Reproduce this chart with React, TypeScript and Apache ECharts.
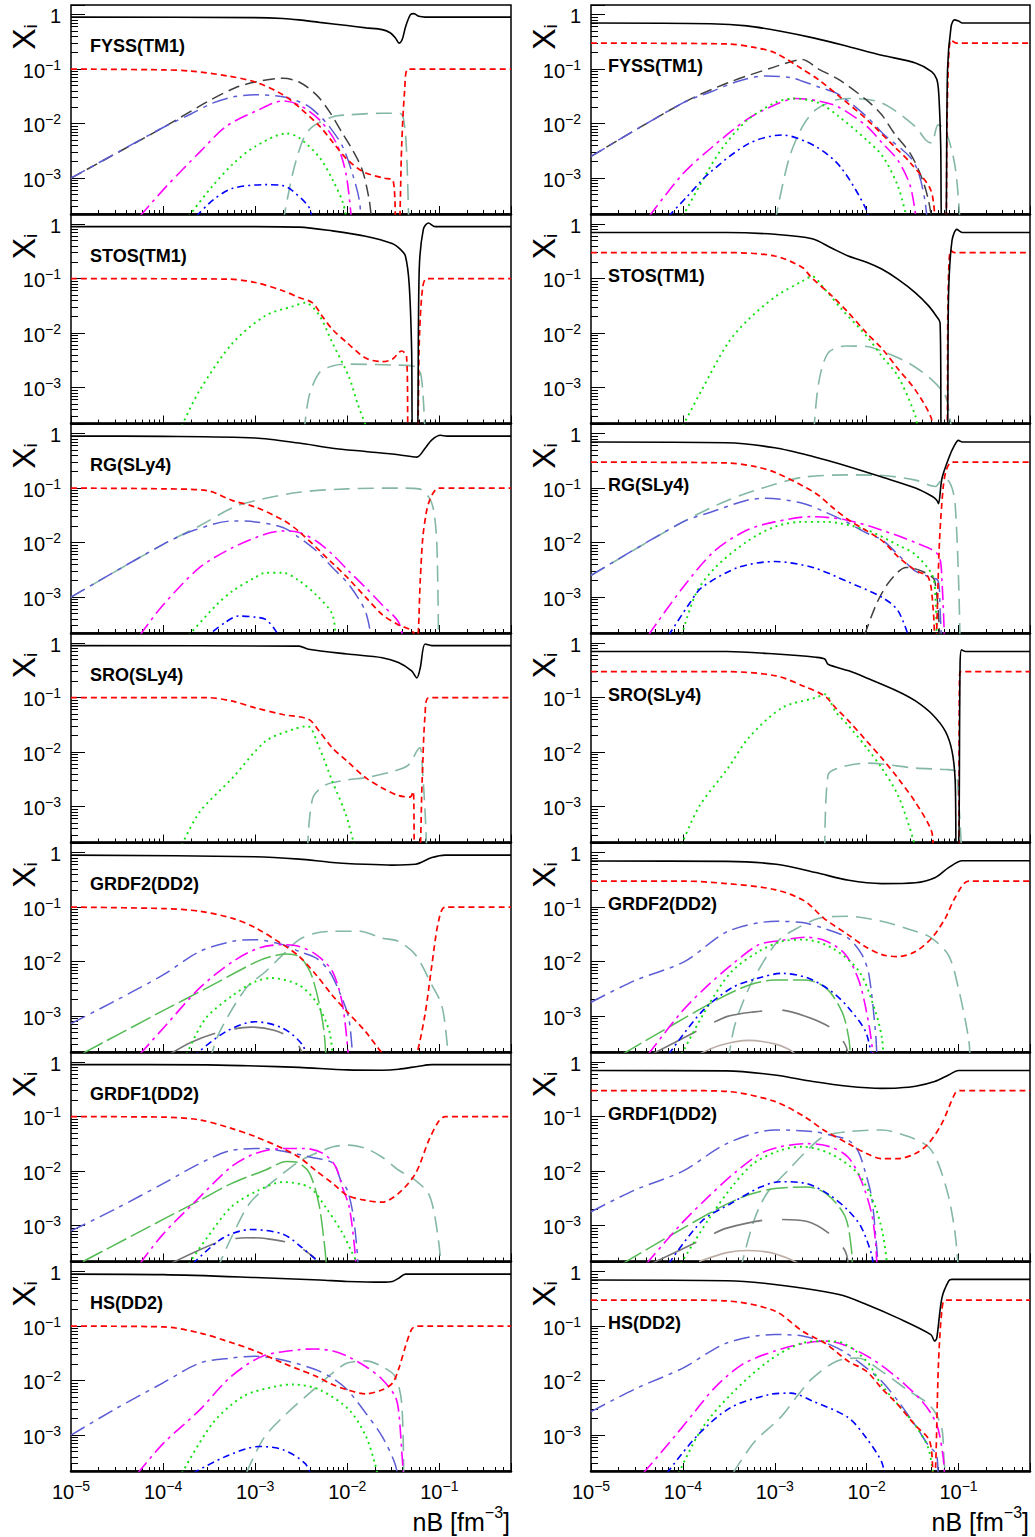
import React, { useEffect, useRef } from "react";
import * as echarts from "echarts";

type Pt = [number, number];

// Log-scale axis ranges shared by every panel
const X_RANGE: [number, number] = [1e-5, 0.6];
const Y_RANGE: [number, number] = [2.2e-4, 1.5];
// Decades that carry a tick label
const X_TICK_EXPONENTS = [-5, -4, -3, -2, -1];
const Y_TICK_EXPONENTS = [-3, -2, -1, 0];

const PANEL_NAMES = ["FYSS(TM1)", "STOS(TM1)", "RG(SLy4)", "SRO(SLy4)", "GRDF2(DD2)", "GRDF1(DD2)", "HS(DD2)"];

// ---------------- FYSS(TM1) ----------------
const fy1_n: Pt[] = [[1e-5,0.9],[1e-3,0.88],[2e-3,0.85],[3e-3,0.8],[5e-3,0.72],[1e-2,0.63],[1.6e-2,0.57],[2.4e-2,0.53],[2.95e-2,0.46],[3.35e-2,0.37],[3.65e-2,0.3],[3.95e-2,0.35],[4.3e-2,0.6],[4.85e-2,1.0],[5.3e-2,1.04],[6e-2,0.93],[7e-2,0.9],[0.6,0.9]];
const fy1_p: Pt[] = [[1e-5,0.1],[1e-4,0.097],[2e-4,0.092],[5e-4,0.075],[1e-3,0.058],[2e-3,0.034],[3e-3,0.02],[5e-3,0.009],[7e-3,0.0045],[1e-2,0.0022],[1.5e-2,0.0013],[2.5e-2,0.001],[3.15e-2,0.0009],[3.4e-2,1e-4],[3.62e-2,1e-4],[3.9e-2,0.004],[4.2e-2,0.04],[4.6e-2,0.1],[0.6,0.1]];
const fy1_d: Pt[] = [[1e-5,0.001],[1e-4,0.0085],[3e-4,0.025],[6e-4,0.045],[1e-3,0.058],[2e-3,0.068],[3e-3,0.058],[4.6e-3,0.034],[6.4e-3,0.0166],[8.9e-3,0.0066],[1.14e-2,0.0033],[1.46e-2,0.0014],[1.73e-2,4e-4],[1.85e-2,1.5e-4]];
const fy1_t: Pt[] = [[1e-5,0.001],[1e-4,0.0085],[2e-4,0.015],[3.5e-4,0.024],[5.8e-4,0.031],[1e-3,0.034],[2e-3,0.031],[3.6e-3,0.022],[5e-3,0.014],[6.4e-3,0.0088],[8.9e-3,0.0038],[1.14e-2,0.0012],[1.35e-2,4e-4],[1.42e-2,1.5e-4]];
const fy1_a: Pt[] = [[5.6e-5,2e-4],[1.08e-4,7e-4],[2.5e-4,0.003],[4.8e-4,0.0088],[1.02e-3,0.017],[2e-3,0.026],[3e-3,0.022],[5e-3,0.0117],[7.6e-3,0.0044],[9.7e-3,0.0012],[1.12e-2,1.5e-4]];
const fy1_h: Pt[] = [[1.9e-4,2e-4],[3.4e-4,7e-4],[5.7e-4,0.0018],[1e-3,0.0038],[2.2e-3,0.0066],[3e-3,0.0055],[5e-3,0.0024],[7e-3,0.0009],[9e-3,3.5e-4],[1e-2,1.5e-4]];
const fy1_b: Pt[] = [[2.3e-4,2e-4],[3.5e-4,4e-4],[5.7e-4,6.5e-4],[1.3e-3,7.6e-4],[2e-3,7.3e-4],[2.5e-3,6e-4],[3.9e-3,2.8e-4],[4.1e-3,1.5e-4]];
const fy1_A: Pt[] = [[2e-3,1.5e-4],[2.55e-3,0.0012],[3.3e-3,0.005],[4.2e-3,0.0088],[7e-3,0.0134],[1.04e-2,0.0145],[2.4e-2,0.0155],[3.7e-2,0.0155],[4.1e-2,0.0117],[4.4e-2,0.0033],[4.65e-2,1.5e-4]];

const fy3_n: Pt[] = [[1e-5,0.7],[2e-4,0.68],[5e-4,0.62],[1.2e-3,0.49],[2.7e-3,0.37],[6.3e-3,0.26],[1.46e-2,0.18],[3.4e-2,0.13],[5.1e-2,0.09],[5.8e-2,0.065],[6.1e-2,0.035],[6.4e-2,0.004],[6.6e-2,1e-4],[7.2e-2,1e-4],[7.6e-2,0.1],[8.3e-2,0.6],[9e-2,0.8],[0.1,0.76],[0.11,0.7],[0.6,0.7]];
const fy3_p: Pt[] = [[1e-5,0.3],[3e-4,0.29],[6e-4,0.25],[1e-3,0.2],[2e-3,0.1],[3e-3,0.064],[5e-3,0.032],[1e-2,0.012],[2e-2,0.0038],[3e-2,0.0019],[5e-2,6e-4],[6e-2,1e-4],[7.2e-2,1e-4],[7.5e-2,0.01],[7.8e-2,0.15],[8.3e-2,0.34],[9.5e-2,0.3],[0.6,0.3]];
const fy3_d: Pt[] = [[1e-5,0.0025],[1e-4,0.024],[3e-4,0.055],[1e-3,0.11],[2e-3,0.15],[3e-3,0.1],[5e-3,0.064],[1e-2,0.027],[1.46e-2,0.0145],[2e-2,0.0066],[3e-2,0.0028],[4e-2,0.001],[4.7e-2,4e-4],[5.2e-2,1.5e-4]];
const fy3_t: Pt[] = [[1e-5,0.0025],[1e-4,0.024],[2e-4,0.038],[4e-4,0.06],[8e-4,0.075],[1.5e-3,0.07],[2e-3,0.06],[3e-3,0.047],[5e-3,0.034],[1e-2,0.0135],[1.5e-2,0.0066],[3e-2,0.0024],[3.7e-2,0.0012],[4.3e-2,4e-4],[4.6e-2,1.5e-4]];
const fy3_a: Pt[] = [[4.3e-5,2e-4],[1e-4,0.0012],[2e-4,0.0035],[5e-4,0.012],[1e-3,0.022],[1.7e-3,0.029],[3e-3,0.026],[5e-3,0.02],[1e-2,0.009],[1.5e-2,0.0043],[2.2e-2,0.0021],[3e-2,0.0007],[3.5e-2,1.5e-4]];
const fy3_h: Pt[] = [[1e-4,2e-4],[1.5e-4,7e-4],[2.6e-4,0.0033],[5e-4,0.0115],[1e-3,0.024],[1.6e-3,0.029],[3e-3,0.024],[5e-3,0.0135],[1e-2,0.005],[1.5e-2,0.0025],[2.2e-2,7e-4],[2.7e-2,2e-4]];
const fy3_b: Pt[] = [[7e-5,2e-4],[1.1e-4,4.5e-4],[1.9e-4,0.0012],[5.2e-4,0.0043],[1.2e-3,0.0062],[2.8e-3,0.0038],[5.2e-3,0.0016],[1e-2,2.6e-4],[1.05e-2,1.5e-4]];
const fy3_A: Pt[] = [[1e-3,1.5e-4],[1.42e-3,0.0022],[2e-3,0.0088],[2.8e-3,0.018],[4.6e-3,0.027],[6.3e-3,0.029],[1.46e-2,0.024],[3.4e-2,0.0088],[4.4e-2,0.005],[5.1e-2,0.0044],[6e-2,0.0095],[7.2e-2,0.0077],[9.2e-2,0.0016],[0.104,1.5e-4]];

// ---------------- STOS(TM1) ----------------
const st1_n: Pt[] = [[1e-5,0.9],[1e-3,0.9],[3e-3,0.88],[6.9e-3,0.75],[1.58e-2,0.6],[3.07e-2,0.44],[3.8e-2,0.34],[4.28e-2,0.26],[4.7e-2,0.08],[5e-2,0.005],[5.14e-2,1e-4],[5.7e-2,1e-4],[6.05e-2,0.15],[6.7e-2,0.8],[7.6e-2,1.05],[9e-2,0.9],[0.6,0.9]];
const st1_p: Pt[] = [[1e-5,0.1],[5e-4,0.098],[1e-3,0.085],[2e-3,0.06],[3e-3,0.045],[4.2e-3,0.036],[5.4e-3,0.02],[6.9e-3,0.0117],[1e-2,0.0066],[1.58e-2,0.0035],[2.4e-2,0.003],[3.07e-2,0.0033],[3.9e-2,0.0047],[4.4e-2,0.0038],[4.7e-2,1e-4],[5.6e-2,1e-4],[6.1e-2,0.01],[6.6e-2,0.07],[7.3e-2,0.1],[0.6,0.1]];
const st1_h: Pt[] = [[1.6e-4,2e-4],[2.5e-4,9e-4],[5.7e-4,0.0066],[1.3e-3,0.021],[2.55e-3,0.031],[3.5e-3,0.036],[4.98e-3,0.021],[6.9e-3,0.0066],[1.04e-2,0.0016],[1.3e-2,5e-4],[1.7e-2,1.5e-4]];
const st1_A: Pt[] = [[3.4e-3,1.5e-4],[3.85e-3,7e-4],[5e-3,0.0019],[6.9e-3,0.0025],[1e-2,0.0027],[3.07e-2,0.0026],[5.1e-2,0.0025],[6e-2,0.0022],[6.5e-2,0.0012],[7e-2,1.5e-4]];

const st3_n: Pt[] = [[1e-5,0.7],[3e-4,0.7],[1e-3,0.65],[2.55e-3,0.54],[4.2e-3,0.36],[6.3e-3,0.26],[1e-2,0.2],[1.46e-2,0.15],[2.2e-2,0.097],[3.4e-2,0.055],[4.7e-2,0.032],[5.8e-2,0.02],[6.3e-2,0.0155],[6.6e-2,1e-4],[7.45e-2,1e-4],[7.8e-2,0.055],[8.5e-2,0.5],[9.6e-2,0.8],[0.11,0.7],[0.6,0.7]];
const st3_p: Pt[] = [[1e-5,0.3],[3e-4,0.3],[1e-3,0.26],[2e-3,0.16],[2.5e-3,0.105],[4.2e-3,0.048],[6.3e-3,0.024],[1e-2,0.01],[1.5e-2,0.005],[2.2e-2,0.0022],[3.4e-2,0.0009],[5e-2,2.9e-4],[5.8e-2,1e-4],[7.4e-2,1e-4],[7.7e-2,0.05],[8.2e-2,0.33],[9e-2,0.3],[0.6,0.3]];
const st3_h: Pt[] = [[1e-4,2e-4],[1.6e-4,9e-4],[3.1e-4,0.0066],[5.2e-4,0.018],[1.04e-3,0.048],[2e-3,0.09],[2.55e-3,0.11],[3.5e-3,0.064],[5.4e-3,0.027],[1e-2,0.0088],[1.46e-2,0.0038],[2.2e-2,0.0016],[3.4e-2,3e-4],[3.6e-2,1.5e-4]];
const st3_A: Pt[] = [[2.66e-3,1.5e-4],[3e-3,0.0012],[3.8e-3,0.0043],[5.9e-3,0.0058],[1e-2,0.0057],[1.46e-2,0.0047],[2.9e-2,0.0028],[5.1e-2,0.0014],[7.2e-2,7e-4],[8e-2,3e-4],[8.5e-2,1.5e-4]];

// ---------------- RG(SLy4) ----------------
const rg1_n: Pt[] = [[1e-5,0.9],[1e-4,0.89],[1e-3,0.83],[3e-3,0.67],[6.9e-3,0.54],[1.58e-2,0.47],[3.6e-2,0.41],[5.7e-2,0.37],[7e-2,0.54],[8.3e-2,0.77],[0.103,0.93],[0.12,0.9],[0.6,0.9]];
const rg1_p: Pt[] = [[1e-5,0.1],[1e-4,0.097],[3e-4,0.09],[5.7e-4,0.059],[1e-3,0.045],[2e-3,0.026],[3e-3,0.016],[6.9e-3,0.0042],[1e-2,0.0023],[1.58e-2,0.001],[2.4e-2,0.00048],[3.6e-2,0.00031],[5.06e-2,0.00024],[5.7e-2,1.5e-4],[6.2e-2,0.002],[6.6e-2,0.012],[7.2e-2,0.035],[7.7e-2,0.055],[8.5e-2,0.08],[0.098,0.1],[0.6,0.1]];
const rg1_A: Pt[] = [[1e-5,0.001],[1e-4,0.0093],[2.5e-4,0.0204],[5.7e-4,0.044],[1e-3,0.059],[3e-3,0.084],[1e-2,0.097],[3.6e-2,0.1],[6e-2,0.097],[7.7e-2,0.068],[8.7e-2,0.038],[9.4e-2,0.0093],[9.8e-2,1.5e-4]];
const rg1_t: Pt[] = [[1e-5,0.001],[1e-4,0.0093],[2.2e-4,0.017],[5.7e-4,0.025],[1e-3,0.024],[2e-3,0.019],[3e-3,0.0124],[4.6e-3,0.0071],[6.9e-3,0.0035],[1.04e-2,0.0017],[1.58e-2,5.4e-4],[1.85e-2,1.5e-4]];
const rg1_a: Pt[] = [[5.6e-5,2e-4],[1e-4,7.2e-4],[2.5e-4,0.0035],[5.7e-4,0.0081],[1.3e-3,0.0144],[2e-3,0.0164],[3e-3,0.0154],[4.6e-3,0.0107],[6.9e-3,0.0061],[1.04e-2,0.003],[1.58e-2,0.0015],[2.4e-2,7.2e-4],[3.6e-2,3.5e-4],[4.1e-2,1.5e-4]];
const rg1_h: Pt[] = [[1.9e-4,2e-4],[3.8e-4,7.2e-4],[5.7e-4,0.0013],[1e-3,0.0023],[1.3e-3,0.0028],[2e-3,0.0028],[3e-3,0.002],[4.6e-3,0.0011],[6.9e-3,4.8e-4],[7.5e-3,1.5e-4]];
const rg1_b: Pt[] = [[2.5e-4,1.5e-4],[4.8e-4,3.5e-4],[6.6e-4,4.5e-4],[1e-3,4.3e-4],[1.3e-3,3.9e-4],[1.7e-3,2.3e-4],[1.8e-3,1.5e-4]];

const rg3_n: Pt[] = [[1e-5,0.7],[3e-4,0.68],[1e-3,0.55],[2.6e-3,0.38],[6.3e-3,0.25],[1.46e-2,0.16],[3.4e-2,0.1],[5.2e-2,0.07],[5.8e-2,0.06],[6.05e-2,0.052],[6.6e-2,0.15],[7.8e-2,0.35],[9e-2,0.6],[0.1,0.75],[0.11,0.7],[0.6,0.7]];
const rg3_p: Pt[] = [[1e-5,0.3],[3e-4,0.29],[6e-4,0.25],[1.04e-3,0.19],[2.8e-3,0.08],[4.2e-3,0.045],[6.4e-3,0.026],[1.46e-2,0.011],[2.2e-2,0.0055],[3.4e-2,0.0031],[4.7e-2,0.0023],[5.3e-2,0.0006],[5.6e-2,1e-4],[6.2e-2,0.01],[6.8e-2,0.1],[7.4e-2,0.22],[8.5e-2,0.3],[0.6,0.3]];
const rg3_A: Pt[] = [[1e-5,0.0025],[1e-4,0.024],[3.1e-4,0.06],[1.04e-3,0.12],[2.1e-3,0.16],[6.4e-3,0.175],[1.5e-2,0.17],[3.4e-2,0.14],[5.6e-2,0.107],[6.6e-2,0.14],[7.5e-2,0.14],[8.5e-2,0.1],[9.2e-2,0.05],[0.1,0.0023],[0.104,1.5e-4]];
const rg3_t: Pt[] = [[1e-5,0.0025],[1e-4,0.024],[2e-4,0.036],[5e-4,0.06],[8e-4,0.065],[2e-3,0.053],[3.6e-3,0.036],[6e-3,0.024],[1e-2,0.015],[1.5e-2,0.011],[2.2e-2,0.006],[3.4e-2,0.003],[4.7e-2,0.0024],[6e-2,0.002],[6.3e-2,0.0006],[6.6e-2,1e-4]];
const rg3_a: Pt[] = [[4.2e-5,2e-4],[1e-4,0.0015],[2.2e-4,0.007],[5e-4,0.017],[1e-3,0.024],[2.5e-3,0.03],[6e-3,0.026],[1.45e-2,0.017],[3.4e-2,0.01],[6e-2,0.006],[6.6e-2,0.002],[7.1e-2,1e-4]];
const rg3_h: Pt[] = [[9.7e-5,2e-4],[1.4e-4,0.0012],[2.25e-4,0.0035],[5.2e-4,0.011],[1.04e-3,0.02],[2e-3,0.024],[3.6e-3,0.024],[1e-2,0.017],[2.2e-2,0.009],[3.4e-2,0.006],[5.2e-2,0.0025],[5.6e-2,0.001],[5.8e-2,1.5e-4]];
const rg3_b: Pt[] = [[7e-5,2e-4],[1.2e-4,0.0008],[1.6e-4,0.0015],[4e-4,0.0035],[1e-3,0.0045],[2.6e-3,0.0035],[6.3e-3,0.0019],[1.46e-2,0.001],[2.2e-2,5.6e-4],[3e-2,1.5e-4]];
const rg3_d: Pt[] = [[9.5e-3,2e-4],[1.3e-2,8e-4],[1.8e-2,0.002],[2.7e-2,0.0035],[4e-2,0.003],[5.5e-2,0.002],[6.3e-2,1e-4]];

// ---------------- SRO(SLy4) ----------------
const sr1_n: Pt[] = [[1e-5,0.9],[3e-3,0.88],[3.8e-3,0.77],[1e-2,0.63],[2.4e-2,0.54],[3.6e-2,0.44],[5e-2,0.31],[5.7e-2,0.23],[6.2e-2,0.35],[7e-2,0.96],[8.3e-2,0.9],[0.6,0.9]];
const sr1_p: Pt[] = [[1e-5,0.1],[3e-4,0.1],[5.7e-4,0.086],[1e-3,0.065],[2e-3,0.049],[3.8e-3,0.04],[4.98e-3,0.024],[6.9e-3,0.0119],[1e-2,0.0068],[1.58e-2,0.0034],[2.4e-2,0.0022],[3.6e-2,0.0016],[4.8e-2,0.0015],[5.2e-2,0.0019],[5.45e-2,1e-4],[6e-2,1e-4],[6.5e-2,0.0029],[7e-2,0.049],[7.7e-2,0.1],[0.6,0.1]];
const sr1_h: Pt[] = [[1.6e-4,2e-4],[2.5e-4,8e-4],[5.7e-4,0.0034],[1.3e-3,0.0159],[2.55e-3,0.026],[3.7e-3,0.03],[4.98e-3,0.0119],[6.9e-3,0.0029],[9.7e-3,7e-4],[1.24e-2,1.5e-4]];
const sr1_A: Pt[] = [[3.7e-3,1.5e-4],[4.2e-3,0.0014],[5.8e-3,0.0025],[1e-2,0.0031],[1.58e-2,0.0034],[3.07e-2,0.0044],[4.6e-2,0.0058],[5.8e-2,0.011],[6.2e-2,0.012],[6.6e-2,0.004],[7e-2,0.0008],[7.3e-2,1.5e-4]];

const sr3_n: Pt[] = [[1e-5,0.7],[3e-4,0.7],[1.04e-3,0.63],[2.8e-3,0.55],[3.5e-3,0.51],[3.8e-3,0.41],[6.4e-3,0.31],[1e-2,0.23],[2.2e-2,0.13],[3.4e-2,0.087],[5.2e-2,0.049],[7.2e-2,0.024],[8.5e-2,0.0104],[9.2e-2,0.003],[9.5e-2,1e-4],[0.1,1e-4],[0.104,0.4],[0.108,0.75],[0.12,0.7],[0.6,0.7]];
const sr3_p: Pt[] = [[1e-5,0.3],[3e-4,0.3],[1.04e-3,0.25],[2.1e-3,0.16],[3.5e-3,0.107],[4.6e-3,0.065],[6.4e-3,0.037],[1e-2,0.016],[1.46e-2,0.0078],[2.2e-2,0.0033],[3.4e-2,0.0012],[5.1e-2,3.5e-4],[5.6e-2,1e-4],[0.1,1e-4],[0.102,0.1],[0.104,0.3],[0.6,0.3]];
const sr3_h: Pt[] = [[9.7e-5,2e-4],[1.5e-4,0.001],[3.1e-4,0.0051],[5.2e-4,0.0183],[1.2e-3,0.065],[2.8e-3,0.1],[3.5e-3,0.115],[4.6e-3,0.055],[6.4e-3,0.03],[1e-2,0.012],[1.46e-2,0.0051],[2.2e-2,0.0016],[3.2e-2,2.6e-4],[3.4e-2,1.5e-4]];
const sr3_A: Pt[] = [[3.5e-3,1.5e-4],[3.8e-3,0.0038],[4.9e-3,0.0051],[1e-2,0.0063],[3.4e-2,0.0051],[7.2e-2,0.0048],[9.2e-2,0.0045],[0.1,0.0014],[0.108,1.5e-4]];

// ---------------- GRDF2(DD2) ----------------
const g21_n: Pt[] = [[1e-5,0.9],[1e-3,0.84],[3e-3,0.76],[6.9e-3,0.66],[1.58e-2,0.61],[3.07e-2,0.59],[5.5e-2,0.61],[8.3e-2,0.81],[0.116,0.9],[0.6,0.9]];
const g21_p: Pt[] = [[1e-5,0.1],[1e-4,0.094],[2.5e-4,0.084],[5.7e-4,0.062],[1e-3,0.042],[2e-3,0.0205],[3e-3,0.0125],[4.6e-3,0.0057],[6.9e-3,0.0024],[1e-2,0.0012],[1.58e-2,5.2e-4],[2.4e-2,2.1e-4],[3.5e-2,1.2e-4],[5e-2,1.2e-4],[5.7e-2,2e-4],[7e-2,0.0011],[8.3e-2,0.0087],[9.8e-2,0.055],[0.116,0.1],[0.6,0.1]];
const g21_A: Pt[] = [[3.2e-4,1.5e-4],[4.1e-4,5.1e-4],[8e-4,0.0033],[1.3e-3,0.0066],[2e-3,0.0134],[3e-3,0.0253],[4.6e-3,0.0336],[6.9e-3,0.036],[1.35e-2,0.036],[2.4e-2,0.027],[3.6e-2,0.0236],[5.5e-2,0.0134],[8.3e-2,0.0037],[0.106,0.0016],[0.12,3.9e-4],[0.125,1.5e-4]];
const g21_t: Pt[] = [[1e-5,7.3e-4],[3e-5,0.0019],[1e-4,0.0057],[2.5e-4,0.0154],[5.7e-4,0.0236],[1e-3,0.0253],[2e-3,0.0205],[3e-3,0.0154],[4.6e-3,0.0116],[6.4e-3,0.0066],[8.2e-3,0.0028],[1.04e-2,9e-4],[1.15e-2,1.5e-4]];
const g21_a: Pt[] = [[5.6e-5,2e-4],[1.08e-4,6.9e-4],[2.5e-4,0.0033],[5.7e-4,0.01],[1.1e-3,0.0178],[2e-3,0.0205],[3e-3,0.019],[4.6e-3,0.0134],[6.9e-3,0.0066],[8.9e-3,0.0016],[1.04e-2,1.5e-4]];
const g21_g: Pt[] = [[1.36e-5,2.1e-4],[1e-4,0.00126],[3e-4,0.0033],[1e-3,0.0097],[1.5e-3,0.0125],[2.2e-3,0.0138],[3e-3,0.0125],[3.7e-3,0.008],[4.2e-3,0.005],[5e-3,0.0016],[5.6e-3,5.1e-4],[5.9e-3,1.5e-4]];
const g21_h: Pt[] = [[1.8e-4,2e-4],[2.9e-4,9.1e-4],[5.7e-4,0.0024],[1e-3,0.0043],[1.5e-3,0.005],[3e-3,0.0037],[4.6e-3,0.0018],[6.4e-3,5.2e-4],[7e-3,1.5e-4]];
const g21_b: Pt[] = [[2.1e-4,1.8e-4],[4.8e-4,5.2e-4],[1e-3,7.9e-4],[2e-3,6e-4],[3.3e-3,2.9e-4],[3.6e-3,1.5e-4]];
const g21_k: Pt[] = [[1.18e-4,2e-4],[2e-4,3.3e-4],[4.1e-4,5.1e-4],[9e-4,6.3e-4],[1.6e-3,5.5e-4],[2.7e-3,3.6e-4],[3.2e-3,2.2e-4]];

const g23_n: Pt[] = [[1e-5,0.7],[3e-4,0.69],[1.04e-3,0.61],[2.8e-3,0.43],[6.4e-3,0.31],[1.46e-2,0.27],[3.4e-2,0.28],[5.6e-2,0.35],[7.8e-2,0.53],[0.11,0.71],[0.6,0.71]];
const g23_p: Pt[] = [[1e-5,0.3],[1e-4,0.3],[3e-4,0.27],[1e-3,0.21],[2.1e-3,0.13],[3.4e-3,0.063],[6.3e-3,0.031],[9.6e-3,0.019],[1.5e-2,0.0133],[2.2e-2,0.0124],[3.4e-2,0.0153],[5.1e-2,0.027],[7.2e-2,0.063],[9.2e-2,0.15],[0.129,0.3],[0.6,0.3]];
const g23_A: Pt[] = [[3.1e-4,1.5e-4],[3.6e-4,6e-4],[4.5e-4,0.0018],[5.9e-4,0.0049],[1.06e-3,0.023],[1.75e-3,0.041],[3.1e-3,0.063],[6.3e-3,0.068],[1.46e-2,0.055],[3.4e-2,0.036],[5.1e-2,0.027],[7.8e-2,0.013],[0.1,0.0032],[0.129,3.8e-4],[0.134,1.5e-4]];
const g23_t: Pt[] = [[1e-5,0.0018],[3e-5,0.0045],[1.04e-4,0.01],[3.1e-4,0.036],[1.04e-3,0.055],[2e-3,0.052],[3.4e-3,0.041],[6.3e-3,0.027],[8.9e-3,0.0134],[1.06e-2,0.0057],[1.25e-2,5e-4],[1.3e-2,1.5e-4]];
const g23_a: Pt[] = [[4.2e-5,2e-4],[9.7e-5,0.0012],[1.75e-4,0.0033],[3.4e-4,0.0088],[6.7e-4,0.0205],[1.1e-3,0.024],[2.15e-3,0.028],[3.6e-3,0.024],[5.9e-3,0.0134],[8.3e-3,0.0043],[1.06e-2,6.9e-4],[1.2e-2,1.5e-4]];
const g23_h: Pt[] = [[9.7e-5,2e-4],[1.9e-4,0.0016],[3.4e-4,0.0066],[6.7e-4,0.0154],[1.2e-3,0.0236],[2.1e-3,0.0253],[4.2e-3,0.0178],[8.3e-3,0.0066],[1.25e-2,0.0012],[1.47e-2,3.9e-4],[1.53e-2,1.5e-4]];
const g23_b: Pt[] = [[7e-5,2e-4],[1.6e-4,0.0012],[3.4e-4,0.0033],[6.7e-4,0.005],[1.2e-3,0.0061],[2.3e-3,0.005],[4.2e-3,0.0028],[6.4e-3,0.0014],[9.8e-3,5.1e-4],[1.15e-2,1.5e-4]];
const g23_g: Pt[] = [[2.2e-5,2e-4],[2.1e-4,0.0018],[5.2e-4,0.0037],[1e-3,0.0046],[2.15e-3,0.0046],[3.6e-3,0.0033],[5.4e-3,0.0012],[6.4e-3,3.9e-4],[6.7e-3,1.5e-4]];
const g23_k: Pt[] = [[4.6e-5,2e-4],[1.6e-4,5.9e-4],[3e-4,9.8e-4],[6e-4,0.0012],[1.1e-3,0.0013],[2.15e-3,0.001],[4.2e-3,5.9e-4],[5.9e-3,2.9e-4],[6.4e-3,1.5e-4]];
const g23_l: Pt[] = [[1.5e-4,2e-4],[2.5e-4,2.9e-4],[5.2e-4,3.6e-4],[1e-3,3.1e-4],[1.4e-3,2.5e-4],[1.75e-3,1.9e-4]];

// ---------------- GRDF1(DD2) ----------------
const g11_n: Pt[] = [[1e-5,0.9],[3e-4,0.89],[1e-3,0.85],[3e-3,0.8],[1e-2,0.72],[2.4e-2,0.71],[3.6e-2,0.74],[6e-2,0.84],[8.3e-2,0.9],[0.6,0.9]];
const g11_p: Pt[] = [[1e-5,0.1],[1e-4,0.098],[2.5e-4,0.087],[5.5e-4,0.061],[1e-3,0.043],[2e-3,0.026],[3e-3,0.018],[4.5e-3,0.0104],[7e-3,0.0059],[1e-2,0.0036],[1.6e-2,0.0029],[2.4e-2,0.0027],[3.6e-2,0.0039],[5.5e-2,0.009],[7.7e-2,0.037],[9.8e-2,0.081],[0.116,0.1],[0.6,0.1]];
const g11_A: Pt[] = [[3.8e-4,1.5e-4],[5.5e-4,6e-4],[8.6e-4,0.0025],[1.3e-3,0.005],[2e-3,0.009],[3e-3,0.015],[4.5e-3,0.021],[7e-3,0.028],[1.05e-2,0.03],[1.6e-2,0.026],[2.4e-2,0.018],[3.6e-2,0.0105],[5.5e-2,0.0068],[7.6e-2,0.0039],[8.8e-2,0.0017],[0.1,4e-4],[0.105,1.5e-4]];
const g11_t: Pt[] = [[1e-5,8e-4],[3e-5,0.002],[1e-4,0.0059],[2.5e-4,0.0138],[5.5e-4,0.024],[1.2e-3,0.026],[2.7e-3,0.021],[4e-3,0.018],[7e-3,0.014],[8.5e-3,0.0068],[1e-2,0.0045],[1.15e-2,0.0017],[1.27e-2,4e-4],[1.32e-2,1.5e-4]];
const g11_a: Pt[] = [[5.6e-5,2e-4],[1e-4,7e-4],[2.3e-4,0.0029],[5.5e-4,0.012],[1e-3,0.021],[2e-3,0.026],[3.5e-3,0.026],[5.5e-3,0.021],[7.5e-3,0.012],[8.8e-3,0.0052],[1.05e-2,0.0022],[1.2e-2,4e-4],[1.25e-2,1.5e-4]];
const g11_g: Pt[] = [[1.35e-5,2.2e-4],[1e-4,0.0013],[2.5e-4,0.0029],[5.5e-4,0.0059],[1.3e-3,0.0105],[2.2e-3,0.015],[3e-3,0.014],[3.9e-3,0.0091],[4.9e-3,0.0026],[5.7e-3,4e-4],[6e-3,1.5e-4]];
const g11_h: Pt[] = [[1.9e-4,2e-4],[3e-4,6e-4],[5.5e-4,0.0022],[1.1e-3,0.0045],[2e-3,0.0063],[3.9e-3,0.005],[5.8e-3,0.0022],[8.8e-3,7.5e-4],[1.1e-2,3.5e-4],[1.4e-2,1.5e-4]];
const g11_b: Pt[] = [[2.1e-4,2e-4],[4.5e-4,6e-4],[9e-4,8.5e-4],[2e-3,7e-4],[3.2e-3,4e-4],[4.8e-3,2.2e-4]];
const g11_k: Pt[] = [[1.2e-4,2e-4],[4e-4,5e-4],[8e-4,6e-4],[1.3e-3,5.8e-4],[2.7e-3,4.5e-4],[4.5e-3,2.5e-4]];

const g13_n: Pt[] = [[1e-5,0.7],[3e-4,0.69],[1e-3,0.58],[2.6e-3,0.44],[6.3e-3,0.36],[1.46e-2,0.33],[2.2e-2,0.335],[3.4e-2,0.36],[5.5e-2,0.44],[7.8e-2,0.58],[0.1,0.7],[0.6,0.7]];
const g13_p: Pt[] = [[1e-5,0.3],[1e-4,0.3],[3e-4,0.29],[1e-3,0.19],[2.1e-3,0.1],[3.4e-3,0.057],[6.3e-3,0.032],[1e-2,0.021],[1.46e-2,0.017],[2.2e-2,0.017],[3.4e-2,0.021],[4.7e-2,0.032],[6.6e-2,0.075],[9.2e-2,0.27],[0.104,0.3],[0.6,0.3]];
const g13_A: Pt[] = [[4.2e-4,1.5e-4],[5.9e-4,0.0012],[8.2e-4,0.0039],[1.4e-3,0.0104],[2.25e-3,0.024],[3.4e-3,0.043],[6.3e-3,0.053],[1.46e-2,0.057],[2.85e-2,0.043],[4.7e-2,0.028],[6e-2,0.014],[7.8e-2,0.0034],[9.2e-2,7e-4],[0.1,1.5e-4]];
const g13_t: Pt[] = [[1e-5,0.0018],[3e-5,0.0045],[1e-4,0.01],[3e-4,0.032],[1e-3,0.057],[2.6e-3,0.053],[4e-3,0.046],[6.3e-3,0.037],[8e-3,0.024],[9.6e-3,0.01],[1.13e-2,0.0034],[1.25e-2,7e-4],[1.35e-2,1.5e-4]];
const g13_a: Pt[] = [[4e-5,2e-4],[9.7e-5,0.0011],[1.9e-4,0.0034],[3.6e-4,0.0091],[7e-4,0.021],[1.15e-3,0.028],[2.25e-3,0.032],[4e-3,0.028],[6.3e-3,0.018],[8.7e-3,0.0068],[1.13e-2,0.0017],[1.25e-2,5e-4],[1.3e-2,1.5e-4]];
const g13_h: Pt[] = [[9.5e-5,2e-4],[1.9e-4,0.0013],[3.4e-4,0.0051],[5.9e-4,0.0139],[1.15e-3,0.024],[2e-3,0.028],[4e-3,0.021],[8e-3,0.0091],[1.2e-2,0.0026],[1.5e-2,7e-4],[1.7e-2,1.5e-4]];
const g13_b: Pt[] = [[7e-5,2e-4],[1.6e-4,0.0012],[3.4e-4,0.0026],[7e-4,0.0051],[1.15e-3,0.0064],[2.25e-3,0.0059],[4e-3,0.0036],[6.3e-3,0.0019],[8.7e-3,9.5e-4],[1.13e-2,3e-4],[1.2e-2,1.5e-4]];
const g13_g: Pt[] = [[2.2e-5,2e-4],[2.2e-4,0.0019],[5e-4,0.0036],[1e-3,0.0048],[2.25e-3,0.0051],[3.6e-3,0.0039],[5.8e-3,0.0015],[6.8e-3,4e-4],[7e-3,1.5e-4]];
const g13_k: Pt[] = [[4.5e-5,2e-4],[1.6e-4,5.5e-4],[3e-4,9e-4],[1e-3,0.0013],[2.2e-3,0.0012],[4e-3,7e-4],[5.8e-3,3.5e-4],[6.3e-3,2e-4]];
const g13_l: Pt[] = [[1.5e-4,2.2e-4],[3e-4,3.2e-4],[5e-4,3.5e-4],[9e-4,3.2e-4],[1.4e-3,2.5e-4],[1.85e-3,2e-4]];

// ---------------- HS(DD2) ----------------
const hs1_n: Pt[] = [[1e-5,0.9],[1e-4,0.88],[1e-3,0.78],[5e-3,0.7],[1e-2,0.66],[2.4e-2,0.64],[3.1e-2,0.66],[3.6e-2,0.75],[4.3e-2,0.9],[0.6,0.9]];
const hs1_p: Pt[] = [[1e-5,0.1],[1e-4,0.097],[2.5e-4,0.075],[5.7e-4,0.049],[1e-3,0.035],[2e-3,0.021],[3e-3,0.016],[4.6e-3,0.012],[6.9e-3,0.0085],[1e-2,0.0068],[1.58e-2,0.0057],[2.4e-2,0.0068],[3.1e-2,0.009],[3.6e-2,0.016],[4.3e-2,0.043],[5e-2,0.087],[5.7e-2,0.1],[0.6,0.1]];
const hs1_t: Pt[] = [[1e-5,0.001],[3e-5,0.003],[1e-4,0.0091],[2.5e-4,0.021],[5.5e-4,0.026],[1e-3,0.028],[2e-3,0.024],[4.5e-3,0.016],[7e-3,0.011],[1e-2,0.0068],[1.6e-2,0.0025],[2.4e-2,9.4e-4],[3.3e-2,3e-4],[3.6e-2,1.5e-4]];
const hs1_a: Pt[] = [[5.3e-5,2e-4],[1e-4,7e-4],[2.5e-4,0.0029],[5.5e-4,0.012],[1.2e-3,0.028],[3e-3,0.037],[4.5e-3,0.038],[7e-3,0.035],[1e-2,0.028],[1.6e-2,0.018],[2.4e-2,0.0105],[3.3e-2,0.0052],[3.6e-2,0.0029],[3.9e-2,5.4e-4],[4.1e-2,1.5e-4]];
const hs1_h: Pt[] = [[1.6e-4,2e-4],[3.5e-4,0.0017],[7.5e-4,0.0052],[1.7e-3,0.0079],[2.6e-3,0.0085],[5e-3,0.0068],[1.05e-2,0.0029],[1.6e-2,9.4e-4],[2e-2,3e-4],[2.2e-2,1.5e-4]];
const hs1_b: Pt[] = [[2.1e-4,2e-4],[4.7e-4,4e-4],[1.1e-3,6.2e-4],[2e-3,5.4e-4],[3.5e-3,3e-4],[4.2e-3,1.5e-4]];
const hs1_A: Pt[] = [[8e-4,2e-4],[1.25e-3,9e-4],[2.2e-3,0.0025],[4.5e-3,0.0073],[7e-3,0.014],[1e-2,0.021],[1.6e-2,0.023],[2.4e-2,0.018],[3.3e-2,0.012],[3.9e-2,0.0039],[4.1e-2,1.5e-4]];

const hs3_n: Pt[] = [[1e-5,0.7],[3e-4,0.68],[1e-3,0.58],[5e-3,0.38],[1e-2,0.25],[2.2e-2,0.14],[5e-2,0.07],[5.5e-2,0.053],[5.8e-2,0.06],[6.6e-2,0.33],[7.8e-2,0.67],[8.5e-2,0.72],[0.6,0.72]];
const hs3_p: Pt[] = [[1e-5,0.3],[1e-4,0.3],[3e-4,0.29],[1e-3,0.19],[2e-3,0.081],[3.5e-3,0.049],[6.3e-3,0.0227],[1e-2,0.0148],[1.46e-2,0.0072],[2.2e-2,0.0036],[3.4e-2,0.0015],[4.7e-2,8.7e-4],[5.1e-2,5e-4],[5.4e-2,1e-4],[5.65e-2,3e-4],[6.05e-2,0.02],[6.6e-2,0.2],[7.2e-2,0.3],[0.6,0.3]];
const hs3_t: Pt[] = [[1e-5,0.0027],[3e-5,0.007],[1e-4,0.017],[3e-4,0.049],[1e-3,0.07],[2e-3,0.066],[3.6e-3,0.049],[5.5e-3,0.035],[1e-2,0.017],[1.46e-2,0.0097],[2.2e-2,0.0042],[3.4e-2,0.0015],[4.7e-2,6.5e-4],[5.8e-2,4.3e-4],[6e-2,1.5e-4]];
const hs3_a: Pt[] = [[3.7e-5,2e-4],[7e-5,7e-4],[1.35e-4,0.0027],[2.2e-4,0.0073],[4.4e-4,0.0197],[1e-3,0.035],[2.2e-3,0.049],[3.6e-3,0.053],[5.5e-3,0.046],[1.1e-2,0.026],[2.2e-2,0.011],[4e-2,0.0042],[5.1e-2,0.0024],[6e-2,0.0013],[6.8e-2,4e-4],[7.1e-2,1.5e-4]];
const hs3_h: Pt[] = [[9e-5,2e-4],[1.6e-4,0.0013],[3.3e-4,0.0055],[8.5e-4,0.0227],[2e-3,0.049],[3.6e-3,0.053],[5.5e-3,0.049],[1e-2,0.0227],[1.46e-2,0.0083],[2.2e-2,0.0036],[3.4e-2,0.0015],[4.7e-2,5.7e-4],[5.4e-2,1.5e-4]];
const hs3_b: Pt[] = [[6.7e-5,2e-4],[1.45e-4,0.001],[3.3e-4,0.0032],[8.5e-4,0.0055],[1.5e-3,0.0059],[2.6e-3,0.0042],[6.3e-3,0.0021],[1e-2,8.7e-4],[1.46e-2,3.2e-4],[1.6e-2,1.5e-4]];
const hs3_A: Pt[] = [[3.5e-4,2e-4],[6e-4,7.5e-4],[1.15e-3,0.0021],[1.8e-3,0.0055],[2.6e-3,0.0112],[4.7e-3,0.0227],[8e-3,0.026],[1.46e-2,0.0148],[2.9e-2,0.0064],[4.3e-2,0.0042],[5.5e-2,0.0027],[6.6e-2,0.0013],[7e-2,3e-4],[7.4e-2,1.5e-4]];

type Curve = [string, Pt[]];
// Panels in reading order: left column then right column for each row
const PANELS: { name: string; curves: Curve[] }[] = [
  { name: PANEL_NAMES[0], curves: [["A", fy1_A], ["d", fy1_d], ["t", fy1_t], ["a", fy1_a], ["h", fy1_h], ["b", fy1_b], ["p", fy1_p], ["n", fy1_n]] },
  { name: PANEL_NAMES[0], curves: [["A", fy3_A], ["d", fy3_d], ["t", fy3_t], ["a", fy3_a], ["h", fy3_h], ["b", fy3_b], ["p", fy3_p], ["n", fy3_n]] },
  { name: PANEL_NAMES[1], curves: [["A", st1_A], ["h", st1_h], ["p", st1_p], ["n", st1_n]] },
  { name: PANEL_NAMES[1], curves: [["A", st3_A], ["h", st3_h], ["p", st3_p], ["n", st3_n]] },
  { name: PANEL_NAMES[2], curves: [["A", rg1_A], ["t", rg1_t], ["a", rg1_a], ["h", rg1_h], ["b", rg1_b], ["p", rg1_p], ["n", rg1_n]] },
  { name: PANEL_NAMES[2], curves: [["A", rg3_A], ["d", rg3_d], ["t", rg3_t], ["a", rg3_a], ["h", rg3_h], ["b", rg3_b], ["p", rg3_p], ["n", rg3_n]] },
  { name: PANEL_NAMES[3], curves: [["A", sr1_A], ["h", sr1_h], ["p", sr1_p], ["n", sr1_n]] },
  { name: PANEL_NAMES[3], curves: [["A", sr3_A], ["h", sr3_h], ["p", sr3_p], ["n", sr3_n]] },
  { name: PANEL_NAMES[4], curves: [["A", g21_A], ["k", g21_k], ["g", g21_g], ["t", g21_t], ["a", g21_a], ["h", g21_h], ["b", g21_b], ["p", g21_p], ["n", g21_n]] },
  { name: PANEL_NAMES[4], curves: [["A", g23_A], ["l", g23_l], ["k", g23_k], ["g", g23_g], ["t", g23_t], ["a", g23_a], ["h", g23_h], ["b", g23_b], ["p", g23_p], ["n", g23_n]] },
  { name: PANEL_NAMES[5], curves: [["A", g11_A], ["k", g11_k], ["g", g11_g], ["t", g11_t], ["a", g11_a], ["h", g11_h], ["b", g11_b], ["p", g11_p], ["n", g11_n]] },
  { name: PANEL_NAMES[5], curves: [["A", g13_A], ["l", g13_l], ["k", g13_k], ["g", g13_g], ["t", g13_t], ["a", g13_a], ["h", g13_h], ["b", g13_b], ["p", g13_p], ["n", g13_n]] },
  { name: PANEL_NAMES[6], curves: [["A", hs1_A], ["t", hs1_t], ["a", hs1_a], ["h", hs1_h], ["b", hs1_b], ["p", hs1_p], ["n", hs1_n]] },
  { name: PANEL_NAMES[6], curves: [["A", hs3_A], ["t", hs3_t], ["a", hs3_a], ["h", hs3_h], ["b", hs3_b], ["p", hs3_p], ["n", hs3_n]] },
];

// Line appearance per species key
const STYLE: Record<string, { color: string; type: any; width: number }> = {
  n: { color: "#000000", type: "solid", width: 1.6 },
  p: { color: "#ff0000", type: [6, 4], width: 1.7 },
  d: { color: "#404040", type: [12, 6], width: 1.5 },
  t: { color: "#5c5cd6", type: [16, 6, 4, 6], width: 1.5 },
  a: { color: "#ff00ff", type: [14, 5, 3, 5], width: 1.6 },
  h: { color: "#14e014", type: [2, 4], width: 1.9 },
  b: { color: "#0000ff", type: [7, 4, 2, 4], width: 1.6 },
  A: { color: "#84b8a4", type: [16, 8], width: 1.6 },
  g: { color: "#55bb55", type: [22, 5], width: 1.5 },
  k: { color: "#777777", type: [50, 20], width: 1.6 },
  l: { color: "#bcaea6", type: "solid", width: 1.6 },
};

const FONT = '"Liberation Sans", Arial, Helvetica, sans-serif';
const GRID_LEFT = [71, 591];
const GRID_WIDTH = [440, 439];
const ROW_TOP = 5;
const ROW_STEP = 209.5;
const ROW_HEIGHT = 209;

const powLabel = (v: number, exps: number[]) => {
  const lg = Math.log10(v);
  const e = Math.round(lg);
  if (Math.abs(lg - e) > 1e-6 || !exps.includes(e)) return "";
  return e === 0 ? "{b|1}" : `{b|10}{s|\u2212${-e}}`;
};

const labelRich = {
  b: { fontSize: 20, fontFamily: FONT, color: "#000", lineHeight: 23, verticalAlign: "bottom" },
  s: { fontSize: 14, fontFamily: FONT, color: "#000", lineHeight: 13, verticalAlign: "top" },
};

export default function App() {
  const ref = useRef<HTMLDivElement>(null);

  useEffect(() => {
    if (!ref.current) return;
    const chart = echarts.init(ref.current, undefined, { renderer: "svg" });

    const grid: any[] = [];
    const xAxis: any[] = [];
    const yAxis: any[] = [];
    const series: any[] = [];
    const graphic: any[] = [];
    const nRows = PANELS.length / 2;

    PANELS.forEach((panel, i) => {
      const row = Math.floor(i / 2);
      const col = i % 2;
      const top = ROW_TOP + row * ROW_STEP;
      const bottomRow = row === nRows - 1;

      grid.push({
        left: GRID_LEFT[col], top, width: GRID_WIDTH[col], height: ROW_HEIGHT,
        show: true, borderColor: "#000", borderWidth: 1.5, backgroundColor: "transparent",
        containLabel: false, outerBoundsMode: "none",
      });

      xAxis.push({
        type: "log", logBase: 10, gridIndex: i, min: X_RANGE[0], max: X_RANGE[1],
        axisLine: { show: true, lineStyle: { color: "#000", width: 2.5 } },
        axisTick: { show: true, inside: true, length: 8, lineStyle: { color: "#000", width: 1 } },
        minorTick: { show: true, splitNumber: 9, length: 4, lineStyle: { color: "#000", width: 1 } },
        splitLine: { show: false }, minorSplitLine: { show: false },
        axisLabel: {
          show: bottomRow, margin: 8, showMinLabel: true, showMaxLabel: true,
          formatter: (v: number) => powLabel(v, X_TICK_EXPONENTS), rich: labelRich,
        },
      });

      yAxis.push({
        type: "log", logBase: 10, gridIndex: i, min: Y_RANGE[0], max: Y_RANGE[1],
        axisLine: { show: false },
        axisTick: { show: true, inside: true, length: 14, lineStyle: { color: "#000", width: 1 } },
        minorTick: { show: true, splitNumber: 9, length: 7, lineStyle: { color: "#000", width: 1 } },
        splitLine: { show: false }, minorSplitLine: { show: false },
        axisLabel: {
          margin: 10, showMinLabel: true, showMaxLabel: true,
          formatter: (v: number) => powLabel(v, Y_TICK_EXPONENTS), rich: labelRich,
        },
      });

      panel.curves.forEach(([key, data]) => {
        const st = STYLE[key];
        series.push({
          type: "line", xAxisIndex: i, yAxisIndex: i, data,
          showSymbol: false, symbol: "none", smooth: 0.3, clip: true, silent: true,
          lineStyle: { color: st.color, width: st.width, type: st.type },
          z: key === "n" ? 4 : key === "p" ? 3 : 2,
        });
      });

      // panel title
      graphic.push({
        type: "text", z: 100,
        x: col === 0 ? 90 : 608, y: top + (col === 0 ? 41 : 61),
        style: { text: panel.name, fontFamily: FONT, fontWeight: "bold", fontSize: 18, fill: "#000", align: "left", verticalAlign: "middle" },
      });
      // rotated y-axis title X_i
      graphic.push({
        type: "text", z: 100,
        x: GRID_LEFT[col] - 48, y: top + 32, rotation: Math.PI / 2,
        style: {
          text: "{x|X}{i|i}", align: "center", verticalAlign: "middle",
          rich: {
            x: { fontSize: 32, fontFamily: FONT, fill: "#000", lineHeight: 34, verticalAlign: "bottom" },
            i: { fontSize: 19, fontFamily: FONT, fill: "#000", lineHeight: 19, verticalAlign: "bottom" },
          },
        },
      });
      if (bottomRow) {
        graphic.push({
          type: "text", z: 100,
          x: GRID_LEFT[col] + GRID_WIDTH[col] - 1, y: 1519,
          style: {
            text: "{a|nB [fm}{s|\u22123}{a|]}", align: "right", verticalAlign: "middle",
            rich: {
              a: { fontSize: 25, fontFamily: FONT, fill: "#000", lineHeight: 30, verticalAlign: "bottom" },
              s: { fontSize: 16, fontFamily: FONT, fill: "#000", lineHeight: 16, verticalAlign: "top" },
            },
          },
        });
      }
    });

    chart.setOption({
      animation: false,
      backgroundColor: "#ffffff",
      grid, xAxis, yAxis, series, graphic,
    });

    return () => chart.dispose();
  }, []);

  return (
    <div
      ref={ref}
      style={{ position: "absolute", left: 0, top: 0, width: 1035, height: 1537 }}
    />
  );
}
